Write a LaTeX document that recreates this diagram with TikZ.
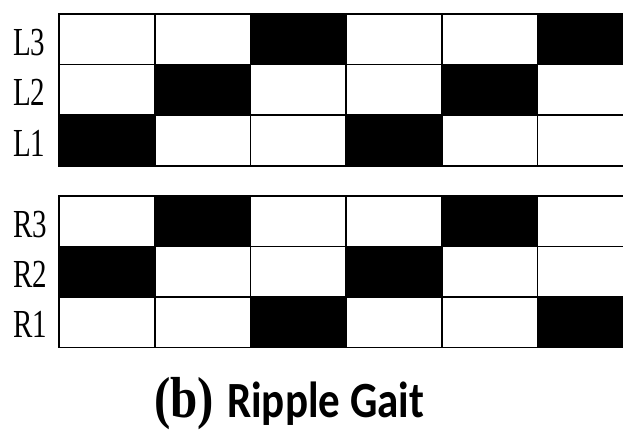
\documentclass[tikz,border=0pt]{standalone}
\usepackage{fontspec}
\setmainfont{Liberation Serif}
\newfontfamily\carlito{Carlito}
\begin{document}
\begin{tikzpicture}[x=1pt,y=-1pt,
  cell/.style={draw=black, line width=1.6pt, minimum width=95.7pt, minimum height=50.6pt, anchor=north west, inner sep=0pt, outer sep=0pt},
  c0/.style={fill=white}, c1/.style={fill=black},
  lab/.style={anchor=base west, inner sep=0pt, font=\fontsize{29}{29}\selectfont}]
\useasboundingbox (0,0) rectangle (623,431);
\fill[white] (0,0) rectangle (623,431);
\begin{scope}
\clip (0,0) rectangle (623,431);
\foreach \name/\y/\pat in {L3/14/{0,0,1,0,0,1}, L2/64.6/{0,1,0,0,1,0}, L1/115.2/{1,0,0,1,0,0}, R3/196/{0,1,0,0,1,0}, R2/246.4/{1,0,0,1,0,0}, R1/296.8/{0,0,1,0,0,1}}{
  \foreach \v [count=\c from 0] in \pat {
    \node[cell, c\v] (\name-\c) at ({59+95.7*\c},\y) {};
  }
  \node[lab] (lab-\name) at (13,{\y+41}) {\scalebox{1}[1.37]{\name}};
}
\end{scope}
\node[anchor=base west, inner sep=0pt, font=\bfseries\fontsize{49}{49}\selectfont] (paren) at (154,417) {\scalebox{1}[1.18]{(b)}};
\node[anchor=base west, inner sep=0pt, font=\carlito\bfseries\fontsize{43}{43}\selectfont] (title) at (227,417) {\scalebox{1}[1.18]{Ripple Gait}};
\end{tikzpicture}
\end{document}
